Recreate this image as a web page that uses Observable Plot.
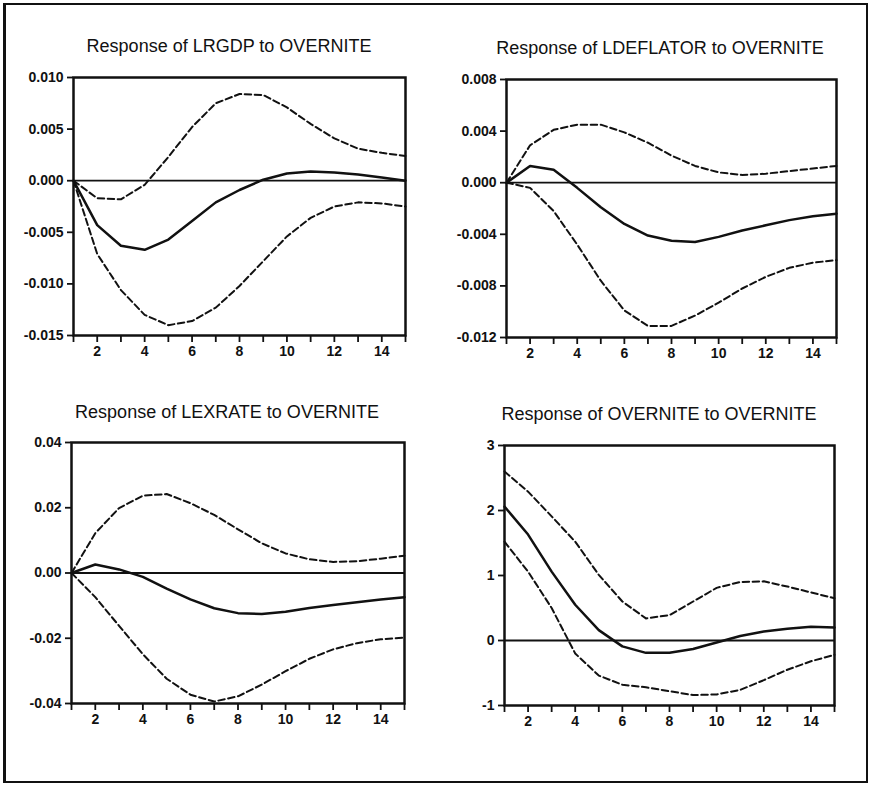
<!DOCTYPE html>
<html>
<head>
<meta charset="utf-8">
<script src="https://cdn.jsdelivr.net/npm/d3@7"></script>
<script src="https://cdn.jsdelivr.net/npm/@observablehq/plot@0.6"></script>
<style>
  html, body { margin: 0; padding: 0; background: #fff; }
  #fig { position: relative; width: 871px; height: 787px; overflow: hidden;
         font-family: "Liberation Sans", Arial, Helvetica, sans-serif; background: #fff; }
  #border { position: absolute; left: 3px; top: 3px; width: 865px; height: 780px;
            border: 2px solid #111; border-left-width: 3px; box-sizing: border-box; }
  .title { position: absolute; font-size: 18px; color: #111; white-space: nowrap;
           transform: translateX(-50%); line-height: 1; }
  .panel { position: absolute; }
  .panel svg [aria-label$="tick"] path { stroke-width: 1.8; }
</style>
</head>
<body>
<div id="fig"><div id="border"></div></div>
<script>
// Impulse responses to an OVERNITE shock, with ±2 S.E. bands
const periods = [1, 2, 3, 4, 5, 6, 7, 8, 9, 10, 11, 12, 13, 14, 15];

const lrgdp   = [0, -0.0043, -0.0063, -0.0067, -0.0057, -0.0039, -0.0021, -0.0009, 0.0001, 0.0007, 0.0009, 0.0008, 0.0006, 0.0003, 0.0000];
const lrgdpHi = [0, -0.0017, -0.0018, -0.0004, 0.0023, 0.0052, 0.0075, 0.0084, 0.0083, 0.0071, 0.0055, 0.0041, 0.0031, 0.0027, 0.0024];
const lrgdpLo = [0, -0.0071, -0.0106, -0.0130, -0.0140, -0.0136, -0.0123, -0.0102, -0.0078, -0.0054, -0.0036, -0.0025, -0.0021, -0.0022, -0.0025];

const ldeflator   = [0, 0.0013, 0.0010, -0.0004, -0.0019, -0.0032, -0.0041, -0.0045, -0.0046, -0.0042, -0.0037, -0.0033, -0.0029, -0.0026, -0.0024];
const ldeflatorHi = [0, 0.0029, 0.0041, 0.0045, 0.0045, 0.0039, 0.0031, 0.0021, 0.0013, 0.0008, 0.0006, 0.0007, 0.0009, 0.0011, 0.0013];
const ldeflatorLo = [0, -0.0004, -0.0022, -0.0048, -0.0076, -0.0099, -0.0111, -0.0111, -0.0103, -0.0093, -0.0082, -0.0073, -0.0066, -0.0062, -0.0060];

const lexrate   = [0, 0.0026, 0.0011, -0.0012, -0.0048, -0.0081, -0.0108, -0.0123, -0.0126, -0.0119, -0.0107, -0.0098, -0.0090, -0.0081, -0.0074];
const lexrateHi = [0, 0.0122, 0.0199, 0.0237, 0.0242, 0.0214, 0.0178, 0.0134, 0.0091, 0.0060, 0.0042, 0.0034, 0.0036, 0.0044, 0.0053];
const lexrateLo = [0, -0.0074, -0.0162, -0.0249, -0.0324, -0.0373, -0.0394, -0.0378, -0.0342, -0.0301, -0.0263, -0.0234, -0.0215, -0.0203, -0.0198];

const overnite   = [2.06, 1.63, 1.06, 0.55, 0.16, -0.09, -0.19, -0.19, -0.13, -0.03, 0.07, 0.14, 0.18, 0.21, 0.20];
const overniteHi = [2.60, 2.29, 1.91, 1.52, 1.01, 0.60, 0.34, 0.39, 0.60, 0.81, 0.90, 0.91, 0.83, 0.74, 0.65];
const overniteLo = [1.52, 1.06, 0.50, -0.20, -0.54, -0.68, -0.72, -0.78, -0.84, -0.83, -0.76, -0.61, -0.45, -0.32, -0.22];

const titles = [
  "Response of LRGDP to OVERNITE",
  "Response of LDEFLATOR to OVERNITE",
  "Response of LEXRATE to OVERNITE",
  "Response of OVERNITE to OVERNITE"
];

const ticksLrgdp = [0.010, 0.005, 0.000, -0.005, -0.010, -0.015];
const ticksLdeflator = [0.008, 0.004, 0.000, -0.004, -0.008, -0.012];
const ticksLexrate = [0.04, 0.02, 0.00, -0.02, -0.04];
const ticksOvernite = [3, 2, 1, 0, -1];

const fixed = (n) => (d) => (d < -1e-12 ? "-" : "") + Math.abs(d).toFixed(n);

const fig = document.getElementById("fig");
const ink = "#111";

function panel({title, est, lo, hi, yDomain, yTicks, yFormat, left, top, width, height, titleX, titleTop}) {
  const rows = (vals) => periods.map((p, i) => ({period: p, value: vals[i]}));
  const mL = 70, mR = 8, mT = 10, mB = 30;
  const plot = Plot.plot({
    width, height,
    marginLeft: mL, marginRight: mR, marginTop: mT, marginBottom: mB,
    style: {background: "transparent", fontFamily: "'Liberation Sans', Arial, sans-serif",
            fontSize: "14px", fontWeight: "bold", color: ink, overflow: "visible"},
    x: {domain: [1, 15], ticks: periods, tickFormat: (d) => (d % 2 === 0 ? String(d) : ""),
        tickSize: 7, tickPadding: 4, label: null},
    y: {domain: yDomain, ticks: yTicks, tickFormat: yFormat, tickSize: 6, tickPadding: 4, label: null},
    marks: [
      Plot.ruleY([0], {stroke: ink, strokeWidth: 1.8}),
      Plot.line(rows(hi), {x: "period", y: "value", stroke: ink, strokeWidth: 2, strokeDasharray: "6.5,3.5"}),
      Plot.line(rows(lo), {x: "period", y: "value", stroke: ink, strokeWidth: 2, strokeDasharray: "6.5,3.5"}),
      Plot.line(rows(est), {x: "period", y: "value", stroke: ink, strokeWidth: 2.5}),
      Plot.frame({stroke: ink, strokeWidth: 2.5})
    ]
  });
  const holder = document.createElement("div");
  holder.className = "panel";
  holder.style.left = (left - mL) + "px";
  holder.style.top = (top - mT) + "px";
  holder.appendChild(plot);
  fig.appendChild(holder);

  const t = document.createElement("div");
  t.className = "title";
  t.textContent = title;
  t.style.left = titleX + "px";
  t.style.top = titleTop + "px";
  fig.appendChild(t);
}

panel({title: titles[0], est: lrgdp, lo: lrgdpLo, hi: lrgdpHi,
       yDomain: [-0.015, 0.010], yTicks: ticksLrgdp, yFormat: fixed(3),
       left: 73, top: 77, width: 410, height: 298, titleX: 229, titleTop: 37});

panel({title: titles[1], est: ldeflator, lo: ldeflatorLo, hi: ldeflatorHi,
       yDomain: [-0.012, 0.008], yTicks: ticksLdeflator, yFormat: fixed(3),
       left: 506, top: 79, width: 408, height: 298, titleX: 660, titleTop: 39});

panel({title: titles[2], est: lexrate, lo: lexrateLo, hi: lexrateHi,
       yDomain: [-0.04, 0.04], yTicks: ticksLexrate, yFormat: fixed(2),
       left: 71, top: 442, width: 411, height: 301, titleX: 227, titleTop: 403});

panel({title: titles[3], est: overnite, lo: overniteLo, hi: overniteHi,
       yDomain: [-1, 3], yTicks: ticksOvernite, yFormat: fixed(0),
       left: 504, top: 445, width: 408, height: 300, titleX: 659, titleTop: 405});
</script>
</body>
</html>
